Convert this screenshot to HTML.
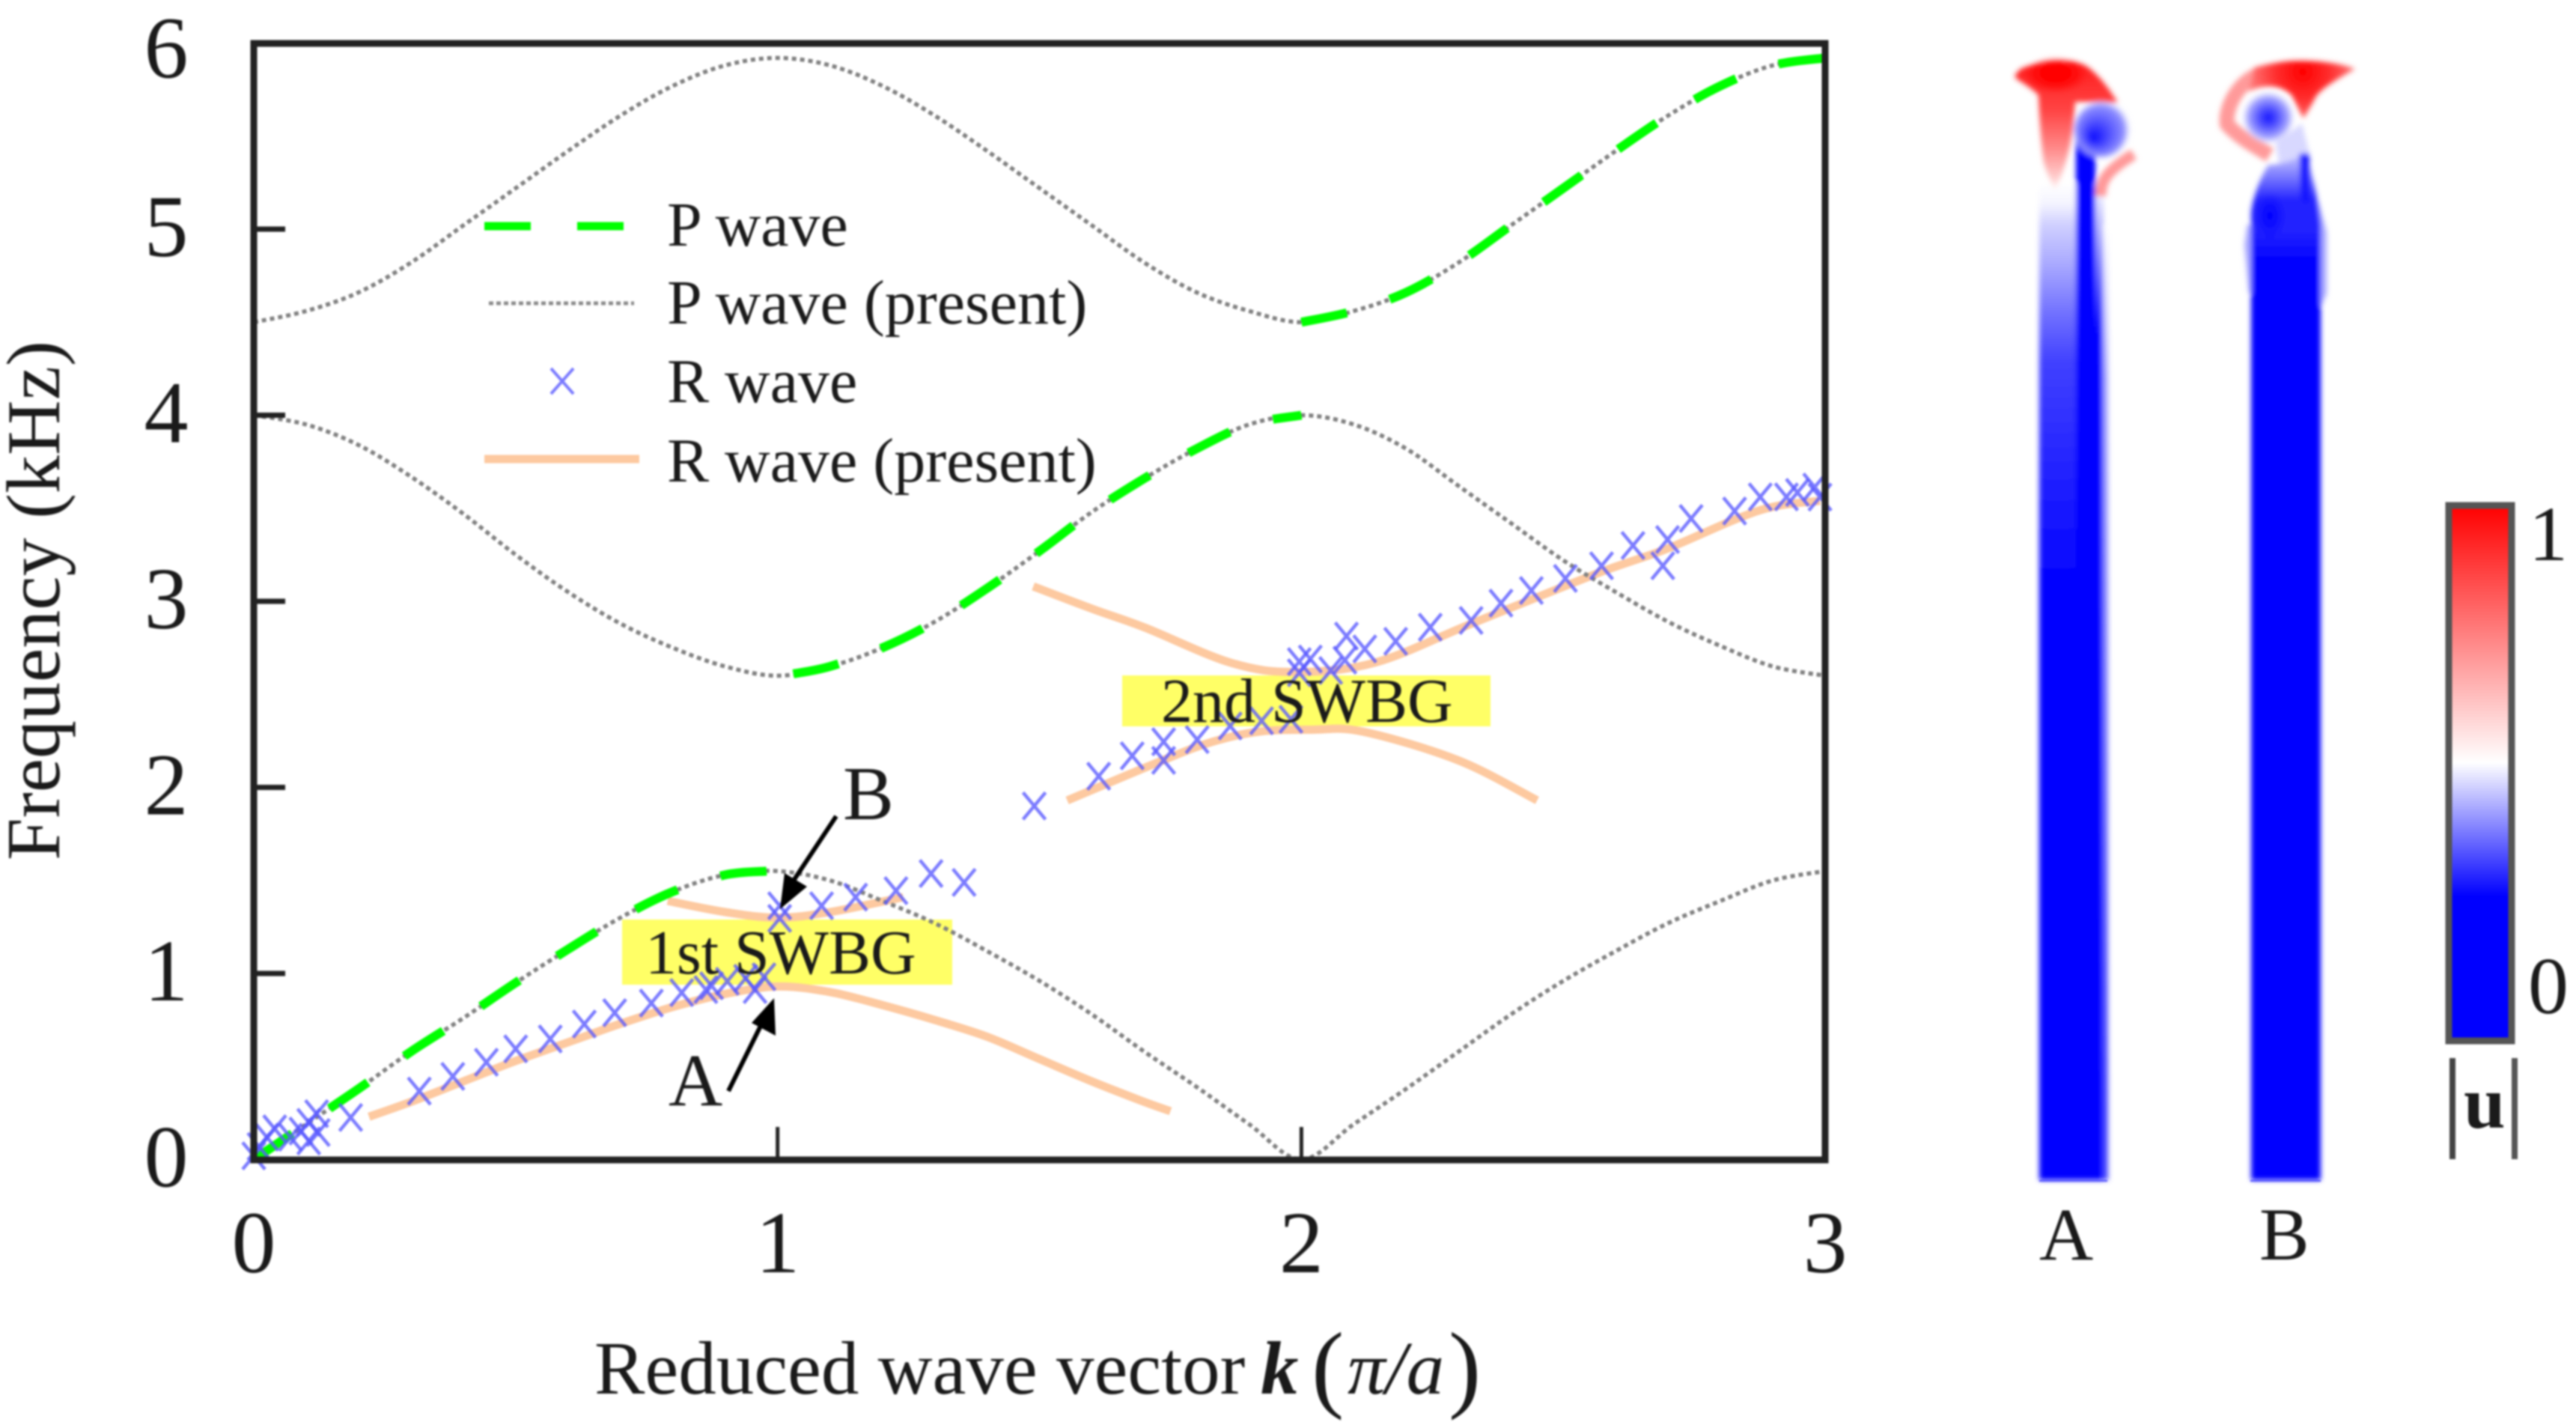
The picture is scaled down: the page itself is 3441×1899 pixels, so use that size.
<!DOCTYPE html>
<html lang="en">
<head>
<meta charset="utf-8">
<title>Frequency band diagram</title>
<style>
html,body{margin:0;padding:0;background:#fff;width:3441px;height:1899px;overflow:hidden}
svg{display:block;filter:blur(1.3px)}
text{font-family:"Liberation Serif",serif;fill:#1a1a1a}
</style>
</head>
<body>
<svg id="fig" xmlns="http://www.w3.org/2000/svg" width="3441" height="1899" viewBox="0 0 3441 1899">
<defs>
<filter id="soft" x="-20%" y="-20%" width="140%" height="140%"><feGaussianBlur stdDeviation="3.5"/></filter>
<linearGradient id="aLeft" gradientUnits="userSpaceOnUse" x1="0" y1="245" x2="0" y2="790">
<stop offset="0" stop-color="#fff"/><stop offset=".05" stop-color="#f4f4ff"/><stop offset=".1" stop-color="#d0d0ff"/><stop offset=".2" stop-color="#a8a8ff"/><stop offset=".32" stop-color="#7070ff"/><stop offset=".44" stop-color="#4040ff"/><stop offset="1" stop-color="#00f"/>
</linearGradient>
<linearGradient id="aMid" gradientUnits="userSpaceOnUse" x1="0" y1="245" x2="0" y2="450">
<stop offset="0" stop-color="#fff"/><stop offset="1" stop-color="#00f"/>
</linearGradient>
<linearGradient id="aEdge" gradientUnits="userSpaceOnUse" x1="0" y1="300" x2="0" y2="1500">
<stop offset="0" stop-color="#fff"/><stop offset=".17" stop-color="#a8a8ff"/><stop offset="1" stop-color="#4848ff"/>
</linearGradient>
<linearGradient id="aRed" gradientUnits="userSpaceOnUse" x1="0" y1="90" x2="0" y2="255">
<stop offset="0" stop-color="#ff2020"/><stop offset=".35" stop-color="#ff4444"/><stop offset=".65" stop-color="#ff8888"/><stop offset=".9" stop-color="#ffd0d0"/><stop offset="1" stop-color="#fff"/>
</linearGradient>
<radialGradient id="redCore">
<stop offset="0" stop-color="#f00"/><stop offset=".6" stop-color="#f00" stop-opacity=".8"/><stop offset="1" stop-color="#f00" stop-opacity="0"/>
</radialGradient>
<radialGradient id="bRed" gradientUnits="userSpaceOnUse" cx="3076" cy="96" r="75">
<stop offset="0" stop-color="#f00"/><stop offset=".5" stop-color="#ff3030"/><stop offset="1" stop-color="#ff8080"/>
</radialGradient>
<radialGradient id="vortexA" cx=".5" cy=".5" r=".5" fx=".35" fy=".65">
<stop offset="0" stop-color="#0606ff"/><stop offset=".4" stop-color="#4a4aff"/><stop offset=".85" stop-color="#9090ff"/><stop offset="1" stop-color="#d8d8ff" stop-opacity=".3"/>
</radialGradient>
<radialGradient id="vortexB">
<stop offset="0" stop-color="#1010ff"/><stop offset=".45" stop-color="#6060ff"/><stop offset=".8" stop-color="#a8a8ff"/><stop offset="1" stop-color="#e0e0ff" stop-opacity=".4"/>
</radialGradient>
<radialGradient id="bSpot">
<stop offset="0" stop-color="#00f"/><stop offset="1" stop-color="#00f" stop-opacity="0"/>
</radialGradient>
<linearGradient id="bBody" gradientUnits="userSpaceOnUse" x1="0" y1="212" x2="0" y2="350">
<stop offset="0" stop-color="#b8b8ff"/><stop offset=".2" stop-color="#7070ff"/><stop offset=".4" stop-color="#2424ff"/><stop offset=".7" stop-color="#2222ff"/><stop offset="1" stop-color="#00f"/>
</linearGradient>
<linearGradient id="cbar" x1="0" y1="0" x2="0" y2="1">
<stop offset="0" stop-color="#f00"/><stop offset=".48" stop-color="#fff"/><stop offset=".73" stop-color="#00f"/><stop offset="1" stop-color="#00f"/>
</linearGradient>
</defs>

<g id="yellow-boxes">
<rect x="831" y="1228" width="441" height="87" fill="#ffff66"/>
<rect x="1499" y="902" width="492" height="68" fill="#ffff66"/>
</g>
<g id="marks"></g>

<g>
<text x="862" y="1300" font-size="84">1st SWBG</text>
<text x="1551" y="964" font-size="84">2nd SWBG</text>
</g>

<g id="axes"></g>

<g>
<path d="M1117 1090L1052 1188" stroke="#000" stroke-width="6" fill="none"/>
<path d="M1042 1214L1048 1166L1078 1184Z" fill="#000"/>
<path d="M973 1457L1021 1360" stroke="#000" stroke-width="6" fill="none"/>
<path d="M1034 1333L1036 1383L1004 1366Z" fill="#000"/>
<text x="893" y="1476" font-size="100">A</text>
<text x="1126" y="1094" font-size="102">B</text>
</g>

<g>
<path d="M647 302H833" stroke="#00ff00" stroke-width="11" stroke-dasharray="62 62" fill="none"/>
<path d="M653 405H847" stroke="#8a8a8a" stroke-width="5" stroke-dasharray="6 4" fill="none"/>
<path d="M736 492L766 526M766 492L736 526" stroke="#7a7aff" stroke-width="4" fill="none"/>
<path d="M647 613H854" stroke="#fdc9a0" stroke-width="11" fill="none"/>
<text x="891" y="328" font-size="84" fill="#333">P wave</text>
<text x="891" y="432" font-size="84">P wave (present)</text>
<text x="891" y="537" font-size="84">R wave</text>
<text x="891" y="643" font-size="84">R wave (present)</text>
</g>

<text transform="translate(79,802) rotate(-90)" text-anchor="middle" font-size="102">Frequency (kHz)</text>
<text y="1861" font-size="101"><tspan x="794">Reduced wave vector</tspan><tspan x="1684" font-weight="bold" font-style="italic">k</tspan><tspan x="1752" font-size="130" dy="8">(</tspan><tspan x="1800" font-style="italic" dy="-8">π/a</tspan><tspan x="1935" font-size="130" dy="8">)</tspan></text>

<g>
<g filter="url(#soft)">
<rect x="2724" y="245" width="49" height="1331" fill="url(#aLeft)"/>
<rect x="2798" y="245" width="12" height="1331" fill="url(#aMid)"/>
<rect x="2809" y="300" width="7" height="1276" fill="url(#aEdge)"/>
<rect x="2773" y="185" width="26" height="1391" fill="#00f"/>
<path d="M2691 102C2696 94 2700 91 2704 90C2720 84 2740 81 2768 82C2780 84 2788 88 2793 93C2805 103 2815 115 2829 137L2772 136C2770 160 2769 175 2767 183C2762 215 2752 240 2745 254C2738 240 2733 228 2730 217C2726 190 2724 150 2723 127C2716 120 2708 115 2704 112C2698 108 2694 106 2691 102Z" fill="url(#aRed)"/>
<ellipse cx="2746" cy="100" rx="42" ry="24" fill="url(#redCore)"/>
<ellipse cx="2807" cy="173" rx="38" ry="39" fill="url(#vortexA)"/>
<path d="M2806 262C2806 240 2815 228 2850 206" stroke="#ff9898" stroke-width="15" fill="none"/>
</g>
</g>

<g>
<g filter="url(#soft)">
<path d="M3040 190L3075 165L3085 205L3045 225Z" fill="#d8d8ff"/>
<path d="M3002 300L2998 327L3004 392L3012 392L3012 300Z" fill="#a8a8ff"/>
<path d="M3096 265L3108 310L3108 392L3096 420Z" fill="#a8a8ff"/>
<path d="M3030 220C3018 240 3010 262 3007 283L3007 1576L3100 1576L3100 300C3097 275 3094 255 3089 237C3086 225 3084 212 3082 203C3060 216 3045 220 3030 220Z" fill="url(#bBody)"/>
<path d="M3078 205L3080 270" stroke="#1414ff" stroke-width="13" fill="none"/>
<ellipse cx="3032" cy="288" rx="22" ry="32" fill="url(#bSpot)"/>
<path d="M3016 100C2988 112 2972 145 2975 166C2990 183 3012 195 3032 207" stroke="#ff9a9a" stroke-width="20" fill="none"/>
<path d="M3146 92C3120 82 3080 80 3054 82C3035 84 3020 88 3011 90L3004 122C3030 110 3050 116 3061 127C3068 140 3072 150 3077 158C3082 150 3088 140 3093 130C3100 118 3125 104 3146 92Z" fill="url(#bRed)"/>
<ellipse cx="3030" cy="157" rx="34" ry="34" fill="url(#vortexB)"/>
</g>
</g>

<rect x="2724" y="1576" width="91" height="2" fill="#5050ff"/>
<rect x="3006" y="1576" width="94" height="2" fill="#5050ff"/>
<text x="2724" y="1682" font-size="100">A</text>
<text x="3018" y="1682" font-size="100">B</text>

<g>
<rect x="3271" y="675" width="84" height="715" fill="url(#cbar)" stroke="#555" stroke-width="9"/>
<text x="3404" y="748" text-anchor="middle" font-size="104">1</text>
<text x="3404" y="1353" text-anchor="middle" font-size="108">0</text>
<rect x="3272" y="1413" width="8" height="135" fill="#444"/>
<rect x="3355" y="1413" width="8" height="135" fill="#555"/>
<text x="3291" y="1506" font-size="100" font-weight="bold">u</text>
</g>
</svg>

<script>
var kGrid = [0,0.1,0.2,0.3,0.4,0.5,0.6,0.7,0.8,0.9,1,1.1,1.2,1.3,1.4,1.5,1.6,1.7,1.8,1.9,2,2.1,2.2,2.3,2.4,2.5,2.6,2.7,2.8,2.9,3];
var band1 = [0,0.19,0.38,0.58,0.76,0.95,1.13,1.3,1.44,1.53,1.55,1.5,1.39,1.27,1.12,0.96,0.78,0.58,0.39,0.19,0,0.19,0.38,0.58,0.78,0.96,1.12,1.27,1.39,1.5,1.55];
var band2 = [4,3.95,3.84,3.67,3.47,3.25,3.05,2.88,2.75,2.65,2.6,2.65,2.75,2.89,3.07,3.27,3.48,3.66,3.82,3.95,4,3.95,3.82,3.62,3.42,3.22,3.05,2.89,2.76,2.65,2.6];
var band3 = [4.5,4.56,4.66,4.82,5.02,5.22,5.42,5.61,5.77,5.88,5.92,5.88,5.77,5.61,5.42,5.22,5.02,4.82,4.66,4.56,4.5,4.56,4.66,4.82,5.02,5.22,5.42,5.61,5.77,5.88,5.92];

var pWaveK1 = [0,0.1,0.2,0.3,0.4,0.5,0.6,0.7,0.8,0.9,0.98];
var pWaveF1 = [0,0.19,0.38,0.58,0.76,0.95,1.13,1.3,1.44,1.53,1.55];
var pWaveK2 = [1.03,1.1,1.2,1.3,1.4,1.5,1.6,1.7,1.8,1.9,2];
var pWaveF2 = [2.61,2.65,2.75,2.89,3.07,3.27,3.48,3.66,3.82,3.95,4];
var pWaveK3 = [2,2.1,2.2,2.3,2.4,2.5,2.6,2.7,2.8,2.9,3];
var pWaveF3 = [4.5,4.56,4.66,4.82,5.02,5.22,5.42,5.61,5.77,5.88,5.92];

var rPresentK1 = [0.22,0.3,0.4,0.5,0.63,0.7,0.8,0.9,1,1.1,1.2,1.3,1.4,1.5,1.6,1.7,1.75];
var rPresentF1 = [0.23,0.31,0.42,0.53,0.66,0.73,0.82,0.89,0.93,0.9,0.83,0.75,0.66,0.54,0.42,0.31,0.26];
var rPresentK2 = [0.79,0.9,1,1.1,1.24];
var rPresentF2 = [1.39,1.33,1.3,1.33,1.41];
var rPresentK3 = [1.488,1.6,1.7,1.865,1.987,2.14,2.325,2.565,2.696,2.828,2.904,2.99];
var rPresentF3 = [3.08,2.96,2.86,2.67,2.62,2.67,2.88,3.15,3.28,3.44,3.51,3.54];
var rPresentK4 = [1.553,1.735,1.83,1.92,2.02,2.117,2.3,2.45];
var rPresentF4 = [1.93,2.145,2.245,2.3,2.31,2.3,2.145,1.93];

var rWaveK = [0,0.01,0.025,0.04,0.07,0.09,0.105,0.105,0.12,0.123,0.185,0.316,0.38,0.444,0.5,0.566,0.631,0.689,0.759,0.817,0.863,0.874,0.904,0.939,0.957,0.974,1.004,1.004,1.084,1.149,1.226,1.293,1.356,1.49,1.613,1.677,1.737,1.737,1.801,1.864,1.924,1.98,1.996,1.996,2.017,2.056,2.083,2.086,2.121,2.18,2.246,2.324,2.381,2.439,2.504,2.573,2.633,2.69,2.699,2.744,2.827,2.876,2.926,2.947,2.98,2.99];
var rWaveF = [0.02,0.07,0.12,0.165,0.12,0.153,0.2,0.1,0.246,0.145,0.226,0.368,0.447,0.523,0.595,0.648,0.728,0.789,0.841,0.897,0.913,0.934,0.958,0.974,0.913,0.982,1.364,1.296,1.364,1.41,1.445,1.537,1.489,1.9,2.06,2.17,2.245,2.145,2.257,2.33,2.358,2.366,2.676,2.616,2.69,2.628,2.684,2.813,2.744,2.785,2.861,2.897,2.99,3.058,3.123,3.191,3.3,3.191,3.332,3.445,3.485,3.561,3.561,3.585,3.614,3.56];

var yTicks = [0,1,2,3,4,5,6];
var yTickLabels = ["0","1","2","3","4","5","6"];
var xTicks = [0,1,2,3];
var xTickLabels = ["0","1","2","3"];

var SVGNS = "http://www.w3.org/2000/svg";
function xPos(k){ return 339 + k * 699.7; }
function yPos(f){ return 1548.5 - f * 248.5; }
function make(tag, parent, attrs){
  var el = document.createElementNS(SVGNS, tag);
  for (var a in attrs) el.setAttribute(a, attrs[a]);
  parent.appendChild(el);
  return el;
}
function pathFrom(ks, fs){
  var px = ks.map(xPos), py = fs.map(yPos), n = px.length;
  var d = "M" + px[0].toFixed(1) + " " + py[0].toFixed(1);
  for (var i = 0; i < n - 1; i++) {
    var a = Math.max(i - 1, 0), b = Math.min(i + 2, n - 1);
    var c1x = px[i] + (px[i+1] - px[a]) / 6, c1y = py[i] + (py[i+1] - py[a]) / 6;
    var c2x = px[i+1] - (px[b] - px[i]) / 6, c2y = py[i+1] - (py[b] - py[i]) / 6;
    d += "C" + c1x.toFixed(1) + " " + c1y.toFixed(1) + " " + c2x.toFixed(1) + " " + c2y.toFixed(1) + " " + px[i+1].toFixed(1) + " " + py[i+1].toFixed(1);
  }
  return d;
}

var marks = document.getElementById("marks");
var axes = document.getElementById("axes");

[[rPresentK1,rPresentF1],[rPresentK2,rPresentF2],[rPresentK3,rPresentF3],[rPresentK4,rPresentF4]].forEach(function(s){
  var el = make("path", marks, {d:pathFrom(s[0],s[1]), fill:"none", stroke:"#fdc9a0", "stroke-width":11, "stroke-linejoin":"round"});
  
  
});

[band1,band2,band3].forEach(function(b){
  var el = make("path", marks, {d:pathFrom(kGrid,b), fill:"none", stroke:"#808080", "stroke-width":5.5, "stroke-dasharray":"6 5"});
  
  
});

[[pWaveK1,pWaveF1],[pWaveK2,pWaveF2],[pWaveK3,pWaveF3]].forEach(function(s){
  var el = make("path", marks, {d:pathFrom(s[0],s[1]), fill:"none", stroke:"#00ff00", "stroke-width":12, "stroke-dasharray":"62 60"});
  
  
});

for (var i = 0; i < rWaveK.length; i++) {
  var cx = xPos(rWaveK[i]), cy = yPos(rWaveF[i]);
  var m = make("path", marks, {d:"M"+(cx-15)+" "+(cy-18)+"L"+(cx+15)+" "+(cy+18)+"M"+(cx+15)+" "+(cy-18)+"L"+(cx-15)+" "+(cy+18), fill:"none", stroke:"#5a5aff", "stroke-width":4.5, "stroke-opacity":0.8});
  
  
}

var frame = make("rect", axes, {x:339, y:58, width:2099, height:1491, fill:"none", stroke:"#222", "stroke-width":9});



yTicks.forEach(function(t, idx){
  if (t > 0 && t < 6) {
    var tk = make("rect", axes, {x:341, y:yPos(t)-3.5, width:40, height:7, fill:"#222"});
    
    
  }
  var lb = make("text", axes, {x:222, y:yPos(t)+(t === 6 ? 46 : 36), "text-anchor":"middle", "font-size":118});
  lb.textContent = yTickLabels[idx];
  
  
});

xTicks.forEach(function(t, idx){
  if (t > 0 && t < 3) {
    var tk = make("rect", axes, {x:xPos(t)-2.5, y:1505, width:5, height:44, fill:"#222"});
    
    
  }
  var lb = make("text", axes, {x:xPos(t), y:1699, "text-anchor":"middle", "font-size":118});
  lb.textContent = xTickLabels[idx];
  
  
});
</script>
</body>
</html>
